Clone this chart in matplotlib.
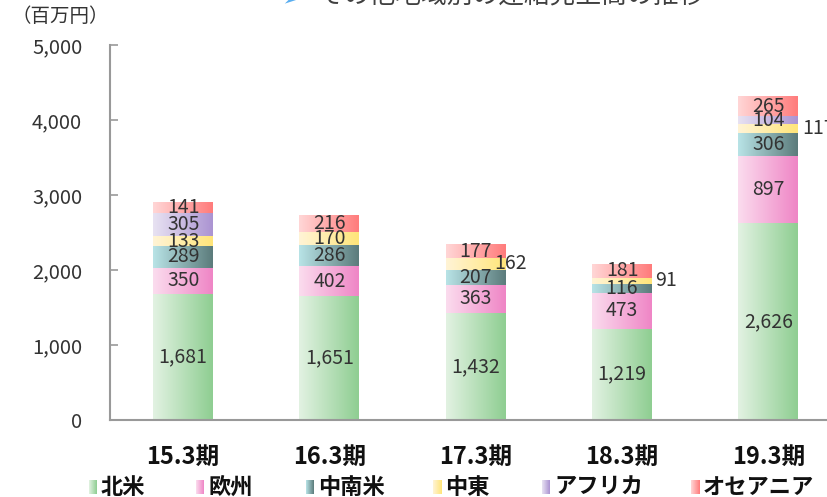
import numpy as np
import matplotlib.pyplot as plt
from matplotlib.colors import LinearSegmentedColormap

plt.rcParams['font.family'] = ['Noto Sans CJK JP', 'DejaVu Sans']

periods = ['15.3期', '16.3期', '17.3期', '18.3期', '19.3期']
regions = ['北米', '欧州', '中南米', '中東', 'アフリカ', 'オセアニア']
north_america = [1681, 1651, 1432, 1219, 2626]
europe = [350, 402, 363, 473, 897]
latin_america = [289, 286, 207, 116, 306]
middle_east = [133, 170, 162, 91, 117]
africa = [305, 0, 0, 0, 104]
oceania = [141, 216, 177, 181, 265]
series = [north_america, europe, latin_america, middle_east, africa, oceania]

# gradient start / end per region (left -> right)
grad = [('#e2f2e2', '#8fce92'),
        ('#fbdcee', '#ef86c6'),
        ('#b8e3e6', '#5c7c7c'),
        ('#fff4d6', '#ffe57a'),
        ('#e8e2f2', '#ab94d2'),
        ('#ffd6d6', '#ff7c7c')]

# labels drawn beside the bar instead of inside (period index -> x offset pts)
outside = {2: -8, 3: 2, 4: 3}

W, H = 827, 497
fig = plt.figure(figsize=(W / 100, H / 100), dpi=100)
slot = 146.3
ax = fig.add_axes([110 / W, 77 / H, 5 * slot / W, 375 / H])

x = np.arange(len(periods))
bottom = np.zeros(len(periods))
for i, vals in enumerate(series):
    vals = np.array(vals)
    bars = ax.bar(x, vals, 0.41, bottom=bottom, color='none', linewidth=0)
    cmap = LinearSegmentedColormap.from_list('g%d' % i, grad[i])
    for j, b in enumerate(bars):
        if vals[j] == 0:
            continue
        x0, y0 = b.get_x(), b.get_y()
        ax.imshow(np.linspace(0, 1, 64).reshape(1, -1), cmap=cmap, aspect='auto',
                  extent=[x0, x0 + b.get_width(), y0, y0 + b.get_height()], zorder=2)
        cy = y0 + b.get_height() / 2
        txt = '{:,}'.format(vals[j])
        if i == 3 and j in outside:
            ax.annotate(txt, (x0 + b.get_width(), cy), xytext=(outside[j], 0),
                        textcoords='offset points', ha='left', va='center',
                        fontsize=14, color='#333333', zorder=4, annotation_clip=False)
        else:
            ax.text(x[j], cy, txt, ha='center', va='center', fontsize=14,
                    color='#333333', zorder=4)
    bottom += vals

ax.set_xlim(-0.5, len(periods) - 0.5)
ax.set_ylim(0, 5000)
ax.set_yticks(range(0, 5001, 1000))
ax.set_yticklabels(['{:,}'.format(v) for v in range(0, 5001, 1000)], fontsize=14.5,
                   color='#333333')
ax.set_xticks(x)
ax.set_xticklabels(periods, fontsize=17, fontweight='bold', color='#111111')
ax.tick_params(axis='y', direction='in', length=6, color='#999999', width=1.2, pad=20)
ax.tick_params(axis='x', length=0, pad=18)
for s in ['top', 'right']:
    ax.spines[s].set_visible(False)
for s in ['left', 'bottom']:
    ax.spines[s].set_color('#999999')
    ax.spines[s].set_linewidth(1.5)

fig.text(60 / W, 1 - 17 / H, '（百万円）', ha='center', va='center', fontsize=14,
         color='#333333')
fig.text(281 / W, 1 - 5 / H, '➢', ha='left', va='baseline', fontsize=18,
         color='#5aaef0', family='DejaVu Sans')
fig.text(318 / W, 1 - 3 / H, 'その他地域別の連結売上高の推移', ha='left', va='baseline',
         fontsize=18.5, color='#404040')

# legend
leg_x = [89, 196, 306, 433, 542, 691]
for i, name in enumerate(regions):
    lx = leg_x[i] / W
    cax = fig.add_axes([lx, 1 - 494 / H, 8 / W, 14 / H])
    cax.imshow(np.linspace(0, 1, 32).reshape(1, -1), aspect='auto',
               cmap=LinearSegmentedColormap.from_list('l%d' % i, grad[i]))
    cax.axis('off')
    fig.text(lx + 12 / W, 1 - 487 / H, name, ha='left', va='center', fontsize=16,
             fontweight='bold', color='#111111')

fig.savefig('out.png', dpi=100)
